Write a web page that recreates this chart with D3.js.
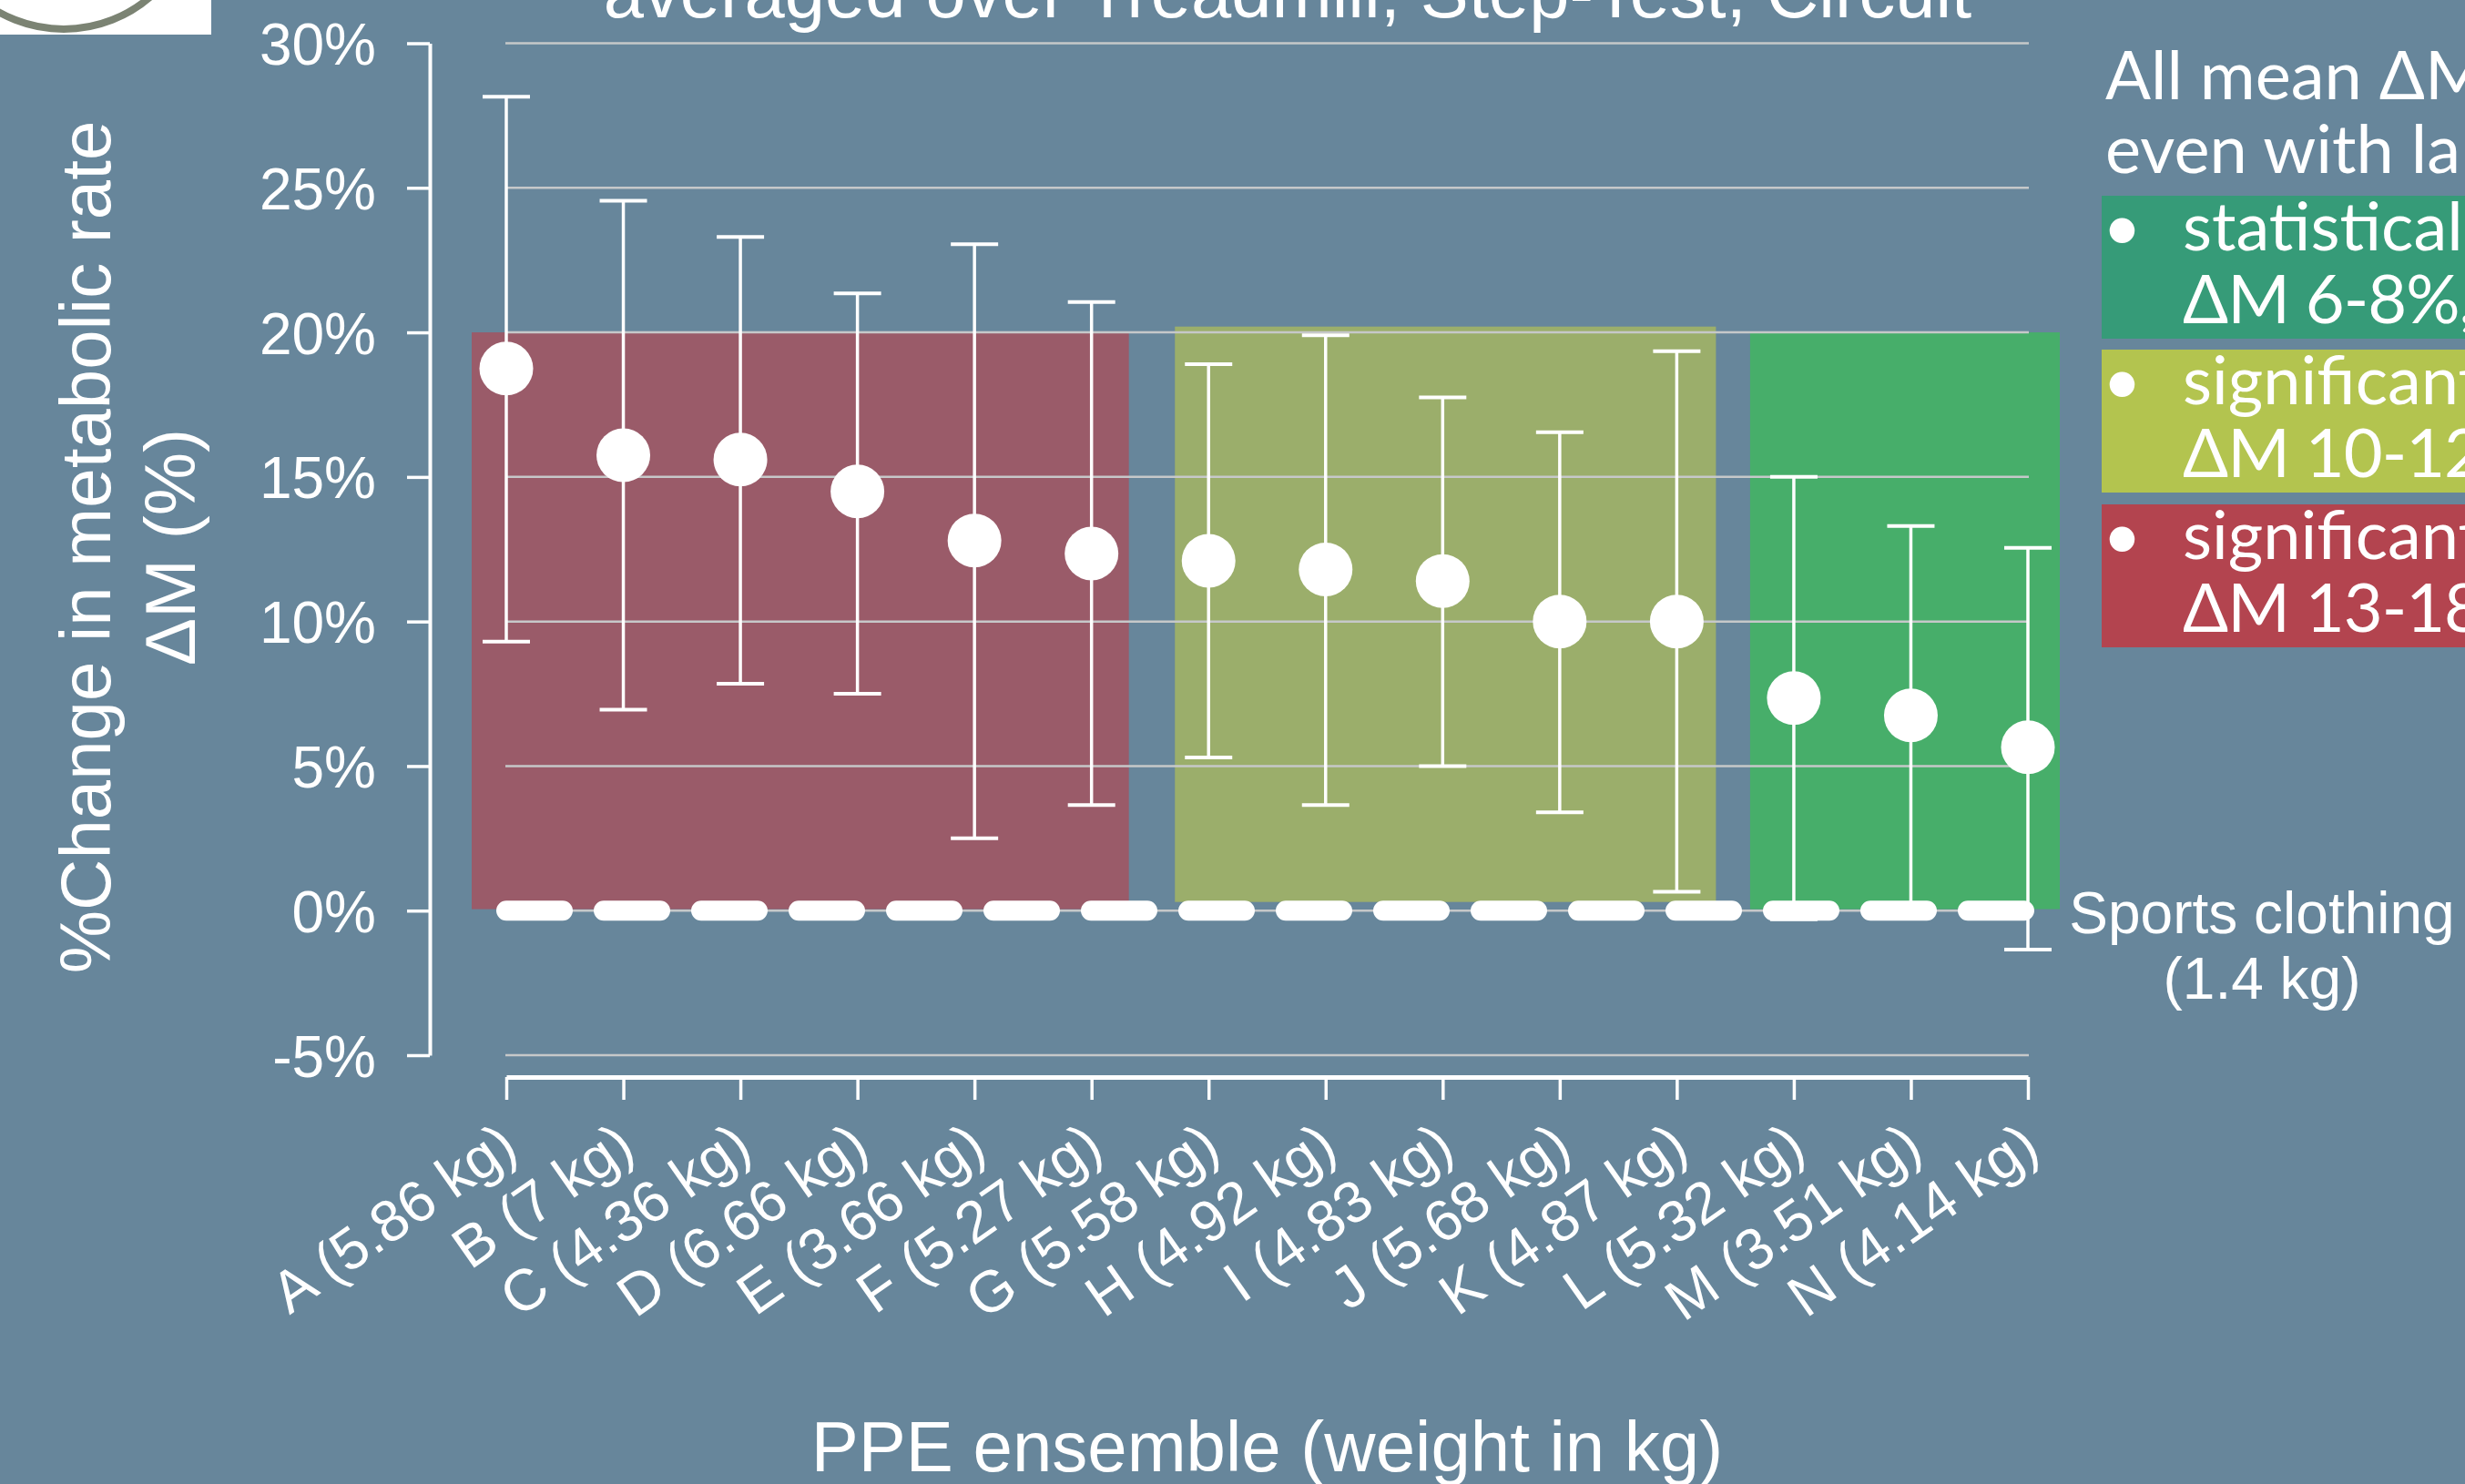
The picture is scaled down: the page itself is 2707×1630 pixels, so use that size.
<!DOCTYPE html>
<html>
<head>
<meta charset="utf-8">
<script src="https://cdn.jsdelivr.net/npm/d3@7"></script>
<style>
  html, body { margin: 0; padding: 0; background: #67869b; }
  svg { display: block; }
</style>
</head>
<body>
<svg id="chart"></svg>
<script>
// values (% change in metabolic rate)
const ensembles = ["A (5.86 kg)", "B (7 kg)", "C (4.36 kg)", "D (6.66 kg)", "E (3.66 kg)", "F (5.27 kg)",
  "G (5.58 kg)", "H (4.92 kg)", "I (4.83 kg)", "J (5.68 kg)", "K (4.87 kg)", "L (5.32 kg)",
  "M (3.51 kg)", "N (4.14 kg)"];
const meanChange = [18.75, 15.75, 15.6, 14.5, 12.8, 12.35, 12.1, 11.8, 11.4, 10.0, 10.0, 7.35, 6.75, 5.65];
const ciLow = [9.3, 6.95, 7.85, 7.5, 2.5, 3.65, 5.3, 3.65, 5.0, 3.4, 0.65, -0.3, 0.15, -1.35];
const ciHigh = [28.15, 24.55, 23.3, 21.35, 23.05, 21.05, 18.9, 19.9, 17.75, 16.55, 19.35, 15.0, 13.3, 12.55];
const yTicks = [-5, 0, 5, 10, 15, 20, 25, 30];

// shaded groups (first / last ensemble, top / bottom in %)
const groupFirst = ["A (5.86 kg)", "G (5.58 kg)", "L (5.32 kg)"];
const groupLast = ["F (5.27 kg)", "K (4.87 kg)", "N (4.14 kg)"];
const groupTop = [20, 20.2, 20];
const groupBottom = [0.05, 0.3, 0.05];

const titleText = "averaged over Treadmill, Step-Test, Circuit";
const yTitle = ["%Change in metabolic rate", "\u0394M (%)"];
const xTitle = "PPE ensemble (weight in kg)";
const referenceLabel = ["Sports clothing", "(1.4 kg)"];
const noteLines = ["All mean \u0394M", "even with large"];
const bulletLines = [["statistically", "\u0394M 6-8%,"], ["significant", "\u0394M 10-12%"], ["significant", "\u0394M 13-18%"]];

// styles
const W = 2707, H = 1630;
const bg = "#67869b";
const groupColor = ["#9a5b69", "#9bae6b", "#47ae6a"];
const groupPad = [[38, 41], [37, 43], [48, 35]];
const noteColor = ["#369b78", "#b3c44f", "#b3444f"];
const sans = "'Liberation Sans', Arial, sans-serif";
const lato = "Lato, 'Open Sans', sans-serif";

const svg = d3.select("#chart").attr("width", W).attr("height", H);
svg.append("rect").attr("width", W).attr("height", H).attr("fill", bg);

const x = d3.scalePoint().domain(ensembles).range([556, 2227]);
const y = d3.scaleLinear().domain([-5, 30]).range([1159, 47.5]);

// logo corner
svg.append("clipPath").attr("id", "logoClip")
  .append("rect").attr("width", 232).attr("height", 38);
const logo = svg.append("g").attr("clip-path", "url(#logoClip)");
logo.append("rect").attr("width", 232).attr("height", 38).attr("fill", "#ffffff");
logo.append("circle").attr("cx", 70).attr("cy", -113).attr("r", 145)
  .attr("fill", "none").attr("stroke", "#7b8373").attr("stroke-width", 8);

// title (cut at the top edge)
svg.append("text").attr("x", 1414).attr("y", 19)
  .attr("text-anchor", "middle").attr("fill", "#fff")
  .style("font-family", sans).style("font-size", "79.5px")
  .text(titleText);

// group boxes
groupFirst.forEach((first, i) => {
  const x0 = x(first) - groupPad[i][0];
  const x1 = x(groupLast[i]) + groupPad[i][1];
  svg.append("rect")
    .attr("x", x0).attr("y", y(groupTop[i]))
    .attr("width", x1 - x0).attr("height", y(groupBottom[i]) - y(groupTop[i]))
    .attr("fill", groupColor[i]);
});

// gridlines
svg.append("g").selectAll("line").data(yTicks).enter().append("line")
  .attr("x1", x(ensembles[0]) - 1).attr("x2", x(ensembles[ensembles.length - 1]) + 1)
  .attr("y1", d => y(d)).attr("y2", d => y(d))
  .attr("stroke", "#c6c8c9").attr("stroke-width", 2.5);

// error bars
const bars = svg.append("g").selectAll("g").data(ensembles).enter().append("g");
bars.append("line")
  .attr("x1", d => x(d)).attr("x2", d => x(d))
  .attr("y1", (d, i) => y(ciLow[i])).attr("y2", (d, i) => y(ciHigh[i]))
  .attr("stroke", "#fff").attr("stroke-width", 3.5);
[ciLow, ciHigh].forEach(arr => {
  bars.append("line")
    .attr("x1", d => x(d) - 26).attr("x2", d => x(d) + 26)
    .attr("y1", (d, i) => y(arr[i])).attr("y2", (d, i) => y(arr[i]))
    .attr("stroke", "#fff").attr("stroke-width", 4);
});

// sports clothing reference (0%)
svg.append("line")
  .attr("x1", x(ensembles[0])).attr("x2", x(ensembles[ensembles.length - 1]))
  .attr("y1", y(0)).attr("y2", y(0))
  .attr("stroke", "#fff").attr("stroke-width", 22)
  .attr("stroke-linecap", "round").attr("stroke-dasharray", "62 45");

// means
svg.append("g").selectAll("circle").data(ensembles).enter().append("circle")
  .attr("cx", d => x(d)).attr("cy", (d, i) => y(meanChange[i]))
  .attr("r", 29.5).attr("fill", "#fff");

// y axis
const yAxis = svg.append("g").attr("transform", "translate(472,0)")
  .call(d3.axisLeft(y).tickValues(yTicks).tickSize(25).tickSizeOuter(0)
    .tickPadding(34).tickFormat(d => d + "%"));
yAxis.select(".domain").attr("stroke", "#fff").attr("stroke-width", 4);
yAxis.selectAll(".tick line").attr("stroke", "#fff").attr("stroke-width", 3.5);
yAxis.selectAll(".tick text").attr("fill", "#fff").attr("dy", "0.36em")
  .style("font-family", sans).style("font-size", "64px");

// x axis
const xAxis = svg.append("g").attr("transform", "translate(0,1183)")
  .call(d3.axisBottom(x).tickSize(25).tickSizeOuter(0).tickPadding(0));
xAxis.select(".domain").attr("stroke", "#fff").attr("stroke-width", 5);
xAxis.selectAll(".tick line").attr("stroke", "#fff").attr("stroke-width", 3.5);
xAxis.selectAll(".tick text")
  .attr("y", 0).attr("dy", 0).attr("fill", "#fff")
  .attr("text-anchor", "end")
  .attr("transform", "translate(15,84) rotate(-35)")
  .style("font-family", sans).style("font-size", "64px");

// axis titles
yTitle.forEach((t, i) => {
  svg.append("text")
    .attr("transform", `translate(${[121, 214][i]},601) rotate(-90)`)
    .attr("text-anchor", "middle").attr("fill", "#fff")
    .style("font-family", sans).style("font-size", "78px")
    .text(t);
});
svg.append("text").attr("x", (x.range()[0] + x.range()[1]) / 2).attr("y", 1616)
  .attr("text-anchor", "middle").attr("fill", "#fff")
  .style("font-family", sans).style("font-size", "78px")
  .text(xTitle);

// reference label
referenceLabel.forEach((t, i) => {
  svg.append("text").attr("x", 2484).attr("y", [1025, 1097][i])
    .attr("text-anchor", "middle").attr("fill", "#fff")
    .style("font-family", sans).style("font-size", "64px")
    .text(t);
});

// note panel on the right
noteLines.forEach((t, i) => {
  svg.append("text").attr("x", 2312).attr("y", [109, 190][i])
    .attr("fill", "#fff").style("font-family", lato).style("font-size", "74px")
    .text(t);
});
const boxTop = [215, 384, 554];
bulletLines.forEach((lines, i) => {
  svg.append("rect").attr("x", 2308).attr("y", boxTop[i])
    .attr("width", W - 2308).attr("height", 157).attr("fill", noteColor[i]);
  svg.append("text").attr("x", 2309).attr("y", boxTop[i] + 60)
    .attr("fill", "#fff").style("font-family", lato).style("font-size", "74px")
    .text("\u2022");
  lines.forEach((t, j) => {
    svg.append("text").attr("x", 2397).attr("y", boxTop[i] + 60 + j * 80)
      .attr("fill", "#fff").style("font-family", lato).style("font-size", "74px")
      .attr("letter-spacing", j === 1 ? "-1px" : null)
      .text(t);
  });
});
</script>
</body>
</html>
